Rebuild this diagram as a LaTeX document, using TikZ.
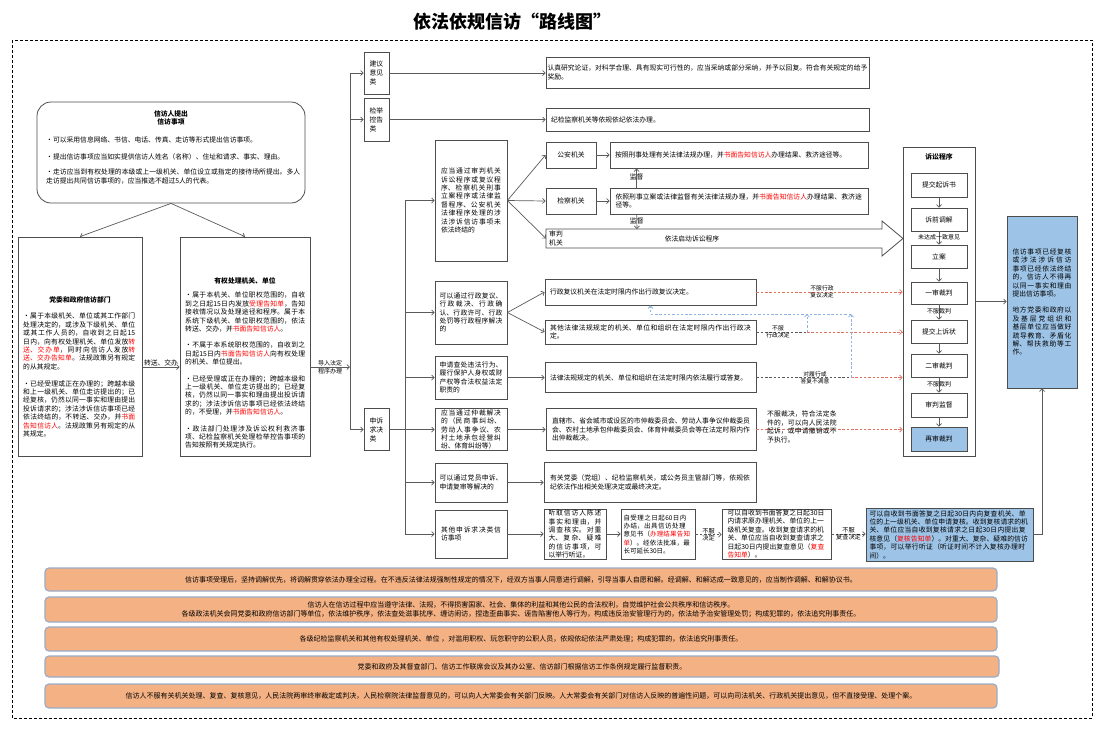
\documentclass[tikz,border=0pt]{standalone}
\usepackage{fontspec}
\setmainfont{Noto Sans CJK SC}
\usetikzlibrary{arrows.meta}
\definecolor{bd}{HTML}{4D4D4D}
\definecolor{ln}{HTML}{5A5A5A}
\definecolor{org}{HTML}{F4B183}
\definecolor{orgbd}{HTML}{9AABC8}
\definecolor{blu}{HTML}{9DC3E6}
\definecolor{rdl}{HTML}{E0705F}
\definecolor{bdl}{HTML}{8DB4E2}
\definecolor{rtx}{HTML}{FF0000}
\newcommand\fs{\fontsize{6.8}{8.4}\selectfont\parindent=0pt}
\newcommand\fsl{\fontsize{5.8}{6.8}\selectfont}
\newcommand\fb{\fontsize{7}{9.5}\selectfont}
\newcommand\rt[1]{\textcolor{rtx}{#1}}
\XeTeXlinebreaklocale "zh"
\XeTeXlinebreakskip=0pt plus 1pt
\begin{document}
\begin{tikzpicture}[x=1pt,y=-1pt,
  box/.style={draw=bd,line width=0.8pt,fill=white,inner sep=0pt,font=\fs},
  txt/.style={inner sep=0pt,font=\fs},
  lab/.style={inner sep=0pt,font=\fsl,align=center},
  barb/.style={-{Straight Barb[length=2.6pt,width=5pt]}},
  arr/.style={draw=ln,line width=0.7pt,barb},
  lnk/.style={draw=ln,line width=0.7pt},
  gdash/.style={draw=ln,line width=0.7pt,dash pattern=on 2.5pt off 1.8pt},
  rdash/.style={draw=rdl,line width=0.7pt,dash pattern=on 2.5pt off 1.8pt,barb},
  bdash/.style={draw=bdl,line width=0.8pt,dash pattern=on 2.5pt off 1.8pt,barb},
  band/.style={draw=orgbd,fill=org,line width=1.2pt,rounded corners=4pt,font=\fb,align=center,minimum width=952pt},
  inbox/.style={box,minimum width=56pt},
]
\useasboundingbox (0,0) rectangle (1104,732);
\draw[black,line width=0.6pt,dash pattern=on 3pt off 2pt] (12,40) rectangle (1092,718);

% title
\node[font=\fontsize{18}{20}\selectfont\bfseries] (title) at (512,22) {依法依规信访“路线图”};

% source box
\node[box,rounded corners=14pt,minimum width=268pt,minimum height=101pt] (src) at (171,152.5) {};
\node[txt,font=\fs\bfseries,align=center] (srch) at (171,118) {信访人提出\\信访事项};
\node[txt,anchor=west] (s1) at (46,140) {・可以采用信息网络、书信、电话、传真、走访等形式提出信访事项。};
\node[txt,anchor=west] (s2) at (46,157) {・提出信访事项应当如实提供信访人姓名（名称）、住址和请求、事实、理由。};
\node[txt,anchor=north west,text width=255pt,align=left] (s3) at (46,169) {・走访应当到有权处理的本级或上一级机关、单位设立或指定的接待场所提出。多人走访提出共同信访事项的，应当推选不超过5人的代表。};

% two first-level boxes
\node[box,minimum width=124pt,minimum height=219pt] (dw) at (80,346.5) {};
\node[txt,font=\fs\bfseries] (dwh) at (80,300) {党委和政府信访部门};
\node[txt,anchor=north west,text width=112pt,align=justify] (dwt) at (23,313) {・属于本级机关、单位或其工作部门处理决定的，或涉及下级机关、单位或其工作人员的，自收到之日起15日内，向有权处理机关、单位发放\rt{转送、交办单}，同时向信访人发放\rt{转送、交办告知单}。法规政策另有规定的从其规定。\par\vspace{8.4pt}・已经受理或正在办理的；跨越本级和上一级机关、单位走访提出的；已经复核，仍然以同一事实和理由提出投诉请求的；涉法涉诉信访事项已经依法终结的，不转送、交办，并\rt{书面告知信访人}。法规政策另有规定的从其规定。};

\node[box,minimum width=130pt,minimum height=219pt] (yq) at (245,346.5) {};
\node[txt,font=\fs\bfseries] (yqh) at (245,281) {有权处理机关、单位};
\node[txt,anchor=north west,text width=120pt,align=justify] (yqt) at (185,292) {・属于本机关、单位职权范围的，自收到之日起15日内发放\rt{受理告知单}，告知接收情况以及处理途径和程序。属于本系统下级机关、单位职权范围的，依法转送、交办，并\rt{书面告知信访人}。\par\vspace{8pt}・不属于本系统职权范围的，自收到之日起15日内\rt{书面告知信访人}向有权处理的机关、单位提出。\par\vspace{8pt}・已经受理或正在办理的；跨越本级和上一级机关、单位走访提出的；已经复核，仍然以同一事实和理由提出投诉请求的；涉法涉诉信访事项已经依法终结的，不受理，并\rt{书面告知信访人}。\par\vspace{8pt}・政法部门处理涉及诉讼权利救济事项、纪检监察机关处理检举控告事项的告知按照有关规定执行。};

\draw[arr] (src.south) -- (dw.north);
\draw[arr] (src.south) -- (yq.north);
\draw[arr] ([yshift=-20.5pt]dw.east) -- node[above=0.5pt,txt]{转送、交办} ([yshift=-20.5pt]yq.west);

% category boxes
\node[box,minimum width=25pt,minimum height=42pt,text width=14pt,align=left,font=\fontsize{6.8}{9}\selectfont] (JY) at (376.5,73) {建议\\意见\\类};
\node[box,minimum width=25pt,minimum height=43pt,text width=14pt,align=left,font=\fontsize{6.8}{9}\selectfont] (JB) at (376.5,119.5) {检举\\控告\\类};
\node[box,minimum width=25pt,minimum height=42pt,text width=14pt,align=left,font=\fontsize{6.8}{9}\selectfont] (SS) at (376.5,429.5) {申诉\\求决\\类};

\coordinate (va) at (350,0);
\coordinate (vc) at (405,0);
\coordinate (j1) at ([yshift=-20.5pt]yq.east);
\draw[arr] (j1) -- node[lab,font=\fontsize{6}{7.6}\selectfont]{导入法定\\程序办理} (va |- j1);
\draw[lnk] (va |- JY.west) -- (va |- SS.west);
\draw[arr] (va |- JY.west) -- (JY.west);
\draw[arr] (va |- JB.west) -- (JB.west);
\draw[arr] (va |- SS.west) -- (SS.west);

\node[box,minimum width=323pt,minimum height=31pt,text width=320pt,align=left] (R1) at (707.5,72.5) {认真研究论证，对科学合理、具有现实可行性的，应当采纳或部分采纳，并予以回复。符合有关规定的给予奖励。};
\node[box,minimum width=323pt,minimum height=23pt,text width=313pt,align=left] (R2) at (707.5,119.5) {纪检监察机关等依规依纪依法办理。};
\draw[arr] (JY.east) -- (R1.west |- JY.east);
\draw[arr] (JB.east) -- (R2.west |- JB.east);

\node[box,minimum width=72pt,minimum height=121pt,text width=60pt,align=justify] (C1) at (471,200.5) {应当通过审判机关诉讼程序或复议程序、检察机关刑事立案程序或法律监督程序、公安机关法律程序处理的涉法涉诉信访事项未依法终结的};
\node[box,minimum width=72pt,minimum height=63pt,text width=63pt,align=justify] (C2) at (471,312.5) {可以通过行政复议、行政裁决、行政确认、行政许可、行政处罚等行政程序解决的};
\node[box,minimum width=72pt,minimum height=43pt,text width=63pt,align=justify] (C3) at (471,377.5) {申请查处违法行为、履行保护人身权或财产权等合法权益法定职责的};
\node[box,minimum width=72pt,minimum height=42pt,text width=60pt,align=justify] (C4) at (471,429.5) {应当通过仲裁解决的（民商事纠纷、劳动人事争议、农村土地承包经营纠纷、体育纠纷等）};
\node[box,minimum width=72pt,minimum height=39pt,text width=63pt,align=justify] (C5) at (471,482.5) {可以通过党员申诉、申请复审等解决的};
\node[box,minimum width=72pt,minimum height=48pt,text width=60pt,align=justify] (C6) at (471,534) {其他申诉求决类信访事项};

\draw[lnk] (vc |- C1.west) -- (vc |- C6.west);
\draw[arr] (vc |- C1.west) -- (C1.west);
\draw[arr] (vc |- C2.west) -- (C2.west);
\draw[arr] (vc |- C3.west) -- (C3.west);
\draw[arr] (SS.east) -- (C4.west);
\draw[arr] (vc |- C5.west) -- (C5.west);
\draw[arr] (vc |- C6.west) -- (C6.west);

% judicial branch
\node[box,minimum width=50pt,minimum height=26pt] (Dga) at (571,155) {公安机关};
\node[box,minimum width=50pt,minimum height=26pt] (Djc) at (571,201) {检察机关};
\node[box,minimum width=258pt,minimum height=26pt,text width=248pt,align=left] (Ega) at (739,155) {按照刑事处理有关法律法规办理，并\rt{书面告知信访人}办理结果、救济途径等。};
\node[box,minimum width=258pt,minimum height=26pt,text width=247pt,align=left] (Ejc) at (739,201) {依照刑事立案或法律监督有关法律法规办理，并\rt{书面告知信访人}办理结果、救济途径等。};
\draw[draw=bd,line width=0.8pt,fill=white] (546,229) -- (882,229) -- (882,221) -- (903,238.5) -- (882,256) -- (882,248) -- (546,248) -- cycle;
\coordinate (sp) at (546,238.5);
\coordinate (spTop) at (637,229);
\node[txt,align=left,font=\fontsize{6.8}{9}\selectfont] (spa) at (556,238.5) {审判\\机关};
\node[txt] (spt) at (692,238.5) {依法启动诉讼程序};
\draw[arr] (C1.east) -- (Dga.west);
\draw[arr] (C1.east) -- (Djc.west);
\draw[arr] (C1.east) -- (sp);
\draw[arr] (Dga) -- (Ega);
\draw[arr] (Djc) -- (Ejc);
\draw[arr] ([xshift=27pt]Ejc.north west) -- node[pos=0.55,txt,font=\fs]{监督} ([xshift=27pt]Ega.south west);
\draw[arr] ([xshift=27pt]Ejc.south west) -- node[pos=0.45,txt,font=\fs]{监督} (spTop);

% administrative branch
\node[box,minimum width=211pt,minimum height=26pt,text width=201pt,align=left] (Exf) at (650.5,292) {行政复议机关在法定时限内作出行政复议决定。};
\node[box,minimum width=211pt,minimum height=24pt,text width=201pt,align=justify] (Eqt) at (650.5,332) {其他法律法规规定的机关、单位和组织在法定时限内作出行政决定。};
\node[box,minimum width=211pt,minimum height=30pt,text width=201pt,align=left] (Efl) at (650.5,377.5) {法律法规规定的机关、单位和组织在法定时限内依法履行或答复。};
\node[box,minimum width=210pt,minimum height=42pt,text width=198pt,align=justify] (Ezc) at (651,429.5) {直辖市、省会城市或设区的市仲裁委员会、劳动人事争议仲裁委员会、农村土地承包仲裁委员会、体育仲裁委员会等在法定时限内作出仲裁裁决。};
\node[box,minimum width=212pt,minimum height=40pt,text width=200pt,align=justify] (Edy) at (650,482.5) {有关党委（党组）、纪检监察机关，或公务员主管部门等，依规依纪依法作出相关处理决定或最终决定。};
\draw[arr] (C2.east) -- (Exf.west);
\draw[arr] (C2.east) -- (Eqt.west);
\draw[arr] (C3.east) -- (Efl.west);
\draw[arr] (C4.east) -- (Ezc.west);
\draw[arr] (C5.east) -- (Edy.west);

% litigation procedure
\node[box,minimum width=72pt,minimum height=309pt] (ssc) at (939,301.5) {};
\node[txt,font=\fs\bfseries] (ssch) at (939,157) {诉讼程序};
\node[inbox,minimum height=24pt] (p1) at (939,185) {提交起诉书};
\node[inbox,minimum height=23pt] (p2) at (939,219.5) {诉前调解};
\node[inbox,minimum height=23pt] (p3) at (939,256.5) {立案};
\node[inbox,minimum height=22pt] (p4) at (939,293) {一审裁判};
\node[inbox,minimum height=23pt] (p5) at (939,331.5) {提交上诉状};
\node[inbox,minimum height=23pt] (p6) at (939,365.5) {二审裁判};
\node[inbox,minimum height=24pt] (p7) at (939,405) {审判监督};
\node[inbox,minimum height=24pt,fill=blu] (p8) at (939,439) {再审裁判};
\draw[arr] (p1) -- (p2);
\draw[arr] (p2) -- (p3);
\draw[arr] (p3) -- (p4);
\draw[arr] (p4) -- (p5);
\draw[arr] (p5) -- (p6);
\draw[arr] (p6) -- (p7);
\draw[arr] (p7) -- (p8);
\node[lab,font=\fontsize{6}{7}\selectfont] (q1) at (939,237.5) {未达成一致意见};
\node[lab,font=\fontsize{6}{7}\selectfont] (q2) at (939,311) {不服裁判};
\node[lab,font=\fontsize{6}{7}\selectfont] (q3) at (939,384) {不服裁判};

% red and blue dashed
\coordinate (bq) at (807,332);
\coordinate (bf) at (851,377.5);
\coordinate (bh1) at (851,314);
\coordinate (bh2) at (807,314);
\coordinate (bh3) at (650.5,314);
\draw[rdash] (Exf.east) -- (Exf.east -| ssc.west);
\draw[gdash] (Eqt.east) -- (bq);
\draw[rdash] (bq) -- (bq -| ssc.west);
\draw[gdash] (Efl.east) -- (bf);
\draw[rdash] (bf) -- (bf -| ssc.west);
\draw[rdash] (Ezc.east) -- (Ezc.east -| ssc.west);
\draw[bdash] (bq) -- (bh2);
\draw[bdash] (bf) -- (bh1);
\draw[bdash] (bh1) -- (bh3) -- (Exf.south);
\node[lab] (l1) at (822,292) {不服行政\\复议决定};
\node[lab] (l2) at (778,332) {不服\\行政决定};
\node[lab] (l3) at (815,377.5) {对履行或\\答复不满意};
\node[txt,anchor=north west,text width=72pt,align=left] (l4) at (767,411) {不服裁决，符合法定条件的，可以向人民法院起诉，或申请撤销或不予执行。};

% info box
\node[box,fill=blu,minimum width=70pt,minimum height=172pt,text width=59pt,align=justify] (info) at (1042,302) {信访事项已经复核或涉法涉诉信访事项已经依法终结的，信访人不得再以同一事实和理由提出信访事项。\par\vspace{8pt}地方党委和政府以及基层党组织和基层单位应当做好疏导教育、矛盾化解、帮扶救助等工作。};
\draw[arr] (ssc.east) -- (ssc.east -| info.west);

% last row
\node[box,minimum width=62pt,minimum height=50pt,text width=53pt,align=justify] (F1) at (575,534) {听取信访人陈述事实和理由，并调查核实。对重大、复杂、疑难的信访事项，可以举行听证。};
\node[box,minimum width=74pt,minimum height=50pt,text width=69pt,align=left,font=\fontsize{6.5}{8.4}\selectfont] (F2) at (658,534.5) {自受理之日起60日内办结，出具信访处理意见书（\rt{办理结果告知单}）。经依法批准，最长可延长30日。};
\node[box,minimum width=109pt,minimum height=50pt,text width=98pt,align=left] (F3) at (776.5,534) {可以自收到书面答复之日起30日内请求原办理机关、单位的上一级机关复查。收到复查请求的机关、单位应当自收到复查请求之日起30日内提出复查意见（\rt{复查告知单}）。};
\node[box,fill=blu,minimum width=167pt,minimum height=53pt,text width=160pt,align=left] (fh) at (949.5,534.5) {可以自收到书面答复之日起30日内向复查机关、单位的上一级机关、单位申请复核。收到复核请求的机关、单位应当自收到复核请求之日起30日内提出复核意见（\rt{复核告知单}）。对重大、复杂、疑难的信访事项，可以举行听证（听证时间不计入复核办理时间）。};
\draw[arr] (C6) -- (F1);
\draw[arr] (F1.east) -- (F2.west |- F1.east);
\draw[gdash,arr] (F2.east) -- node[lab,font=\fontsize{6.2}{7.4}\selectfont]{不服\\决定} (F3.west |- F2.east);
\draw[gdash,arr] (F3.east) -- node[lab,font=\fontsize{6.2}{7.4}\selectfont]{不服\\复查决定} (fh.west |- F3.east);
\draw[arr] (fh.east) -| (info.south);

% bottom bands
\node[band,minimum height=23pt] (B1) at (521,579.5) {信访事项受理后，坚持调解优先，将调解贯穿依法办理全过程。在不违反法律法规强制性规定的情况下，经双方当事人同意进行调解，引导当事人自愿和解。经调解、和解达成一致意见的，应当制作调解、和解协议书。};
\node[band,minimum height=25pt] (B2) at (521,609.5) {信访人在信访过程中应当遵守法律、法规，不得损害国家、社会、集体的利益和其他公民的合法权利，自觉维护社会公共秩序和信访秩序。\\各级政法机关会同党委和政府信访部门等单位，依法维护秩序，依法查处滋事扰序、缠访闹访，捏造歪曲事实、诬告陷害他人等行为，构成违反治安管理行为的，依法给予治安管理处罚；构成犯罪的，依法追究刑事责任。};
\node[band,minimum height=24pt] (B3) at (521,639) {各级纪检监察机关和其他有权处理机关、单位 ，对滥用职权、玩忽职守的公职人员，依规依纪依法严肃处理；构成犯罪的，依法追究刑事责任。};
\node[band,minimum height=21pt,minimum width=954pt] (B4) at (522,666.5) {党委和政府及其督查部门、信访工作联席会议及其办公室、信访部门根据信访工作条例规定履行监督职责。};
\node[band,minimum height=24pt] (B5) at (521,696) {信访人不服有关机关处理、复查、复核意见，人民法院两审终审裁定或判决，人民检察院法律监督意见的，可以向人大常委会有关部门反映。人大常委会有关部门对信访人反映的普遍性问题，可以向司法机关、行政机关提出意见，但不直接受理、处理个案。};
\end{tikzpicture}
\end{document}
